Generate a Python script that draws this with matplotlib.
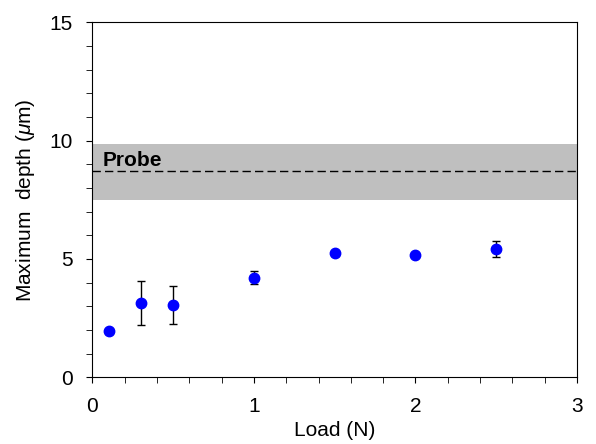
import matplotlib.pyplot as plt
from matplotlib.ticker import MultipleLocator

plt.rcParams['font.family'] = ['Liberation Sans', 'DejaVu Sans']
plt.rcParams['mathtext.fontset'] = 'custom'
plt.rcParams['mathtext.it'] = 'Liberation Sans:italic'

load = [0.1, 0.3, 0.5, 1.0, 1.5, 2.0, 2.5]
depth = [1.94, 3.14, 3.06, 4.21, 5.24, 5.17, 5.41]
depth_err = [0.1, 0.92, 0.8, 0.28, 0.1, 0.08, 0.34]

probe_depth = 8.7
probe_low = 7.48
probe_high = 9.84

fig, ax = plt.subplots(figsize=(5.96, 4.44), dpi=100)
fig.subplots_adjust(left=0.155, right=0.968, top=0.95, bottom=0.15)

ax.axhspan(probe_low, probe_high, color='#bfbfbf', lw=0, zorder=1)
ax.axhline(probe_depth, color='black', ls=(0, (6, 3)), lw=1, zorder=2)
ax.text(0.066, 8.93, 'Probe', fontsize=15, fontweight='bold', zorder=3)

ax.errorbar(load, depth, yerr=depth_err, fmt='o', color='blue', ms=7.5,
            ecolor='black', elinewidth=1, capsize=3, capthick=1, zorder=4)

ax.set_xlim(0, 3)
ax.set_ylim(0, 15)
ax.xaxis.set_major_locator(MultipleLocator(1))
ax.xaxis.set_minor_locator(MultipleLocator(0.2))
ax.yaxis.set_major_locator(MultipleLocator(5))
ax.yaxis.set_minor_locator(MultipleLocator(1))
ax.tick_params(which='both', direction='out', labelsize=15)
ax.tick_params(which='major', length=4.5, pad=9.5)
ax.tick_params(which='minor', length=4.5)

ax.set_xlabel('Load (N)', fontsize=15, labelpad=4)
ax.set_ylabel(r'Maximum  depth ($\mu$m)', fontsize=15, labelpad=9)

plt.savefig('out.png')
